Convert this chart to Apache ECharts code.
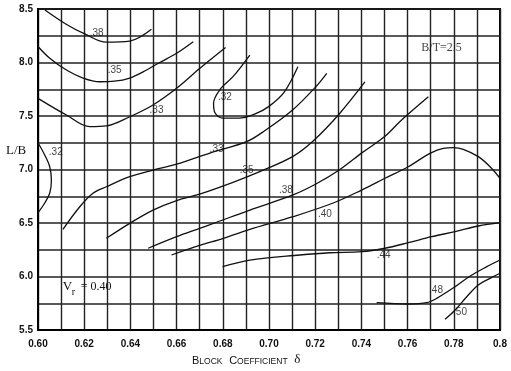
<!DOCTYPE html>
<html>
<head>
<meta charset="utf-8">
<script src="https://cdn.jsdelivr.net/npm/echarts@6/dist/echarts.min.js"></script>
<style>html,body{margin:0;padding:0;background:#fff}#c{width:511px;height:371px}</style>
</head>
<body>
<div id="c"></div>
<script>
// contour curves: [block coefficient, L/B]
const c38top = [[0.603,8.49],[0.612,8.36],[0.620,8.27],[0.6296,8.19],[0.6397,8.20],[0.6491,8.31]];
const c35top = [[0.600,8.15],[0.6051,8.04],[0.6123,7.93],[0.6195,7.855],[0.6267,7.82],[0.633,7.825],[0.6397,7.855],[0.647,7.93],[0.6527,8.0],[0.660,8.086],[0.6672,8.194]];
const c33top = [[0.600,7.665],[0.6123,7.509],[0.6224,7.40],[0.6296,7.407],[0.6397,7.493],[0.6498,7.603],[0.660,7.759],[0.6701,7.946],[0.6812,8.14]];
const c32mid = [[0.6917,8.07],[0.6845,7.87],[0.6787,7.745],[0.676,7.62],[0.6766,7.53],[0.680,7.48],[0.687,7.48],[0.694,7.52],[0.700,7.59],[0.7065,7.72],[0.7125,7.96]];
const c32left = [[0.600,7.25],[0.6029,7.136],[0.6051,7.023],[0.6058,6.902],[0.6051,6.78],[0.6029,6.687],[0.600,6.595]];
const c33low = [[0.6108,6.441],[0.6181,6.652],[0.6238,6.778],[0.6296,6.839],[0.6397,6.933],[0.6498,6.995],[0.660,7.05],[0.6744,7.154],[0.6903,7.26],[0.698,7.36],[0.7102,7.556],[0.7203,7.774],[0.725,7.899]];
const c35low = [[0.6296,6.357],[0.6397,6.497],[0.6498,6.621],[0.660,6.71],[0.670,6.77],[0.6844,6.88],[0.696,6.98],[0.7102,7.12],[0.7191,7.266],[0.7304,7.519],[0.7415,7.818]];
const c38low = [[0.6477,6.264],[0.660,6.372],[0.670,6.45],[0.6773,6.507],[0.6917,6.621],[0.7104,6.762],[0.7203,6.864],[0.7304,6.995],[0.7405,7.16],[0.7502,7.31],[0.7574,7.463],[0.769,7.68]];
const c40 = [[0.6578,6.201],[0.670,6.29],[0.6799,6.355],[0.6917,6.44],[0.7104,6.559],[0.7278,6.687],[0.7401,6.808],[0.7502,6.918],[0.7603,7.026],[0.7697,7.151],[0.7755,7.198],[0.7798,7.204],[0.7841,7.189],[0.7906,7.12],[0.7957,7.026],[0.800,6.918]];
const c44 = [[0.6799,6.092],[0.6917,6.154],[0.7133,6.201],[0.7263,6.222],[0.7401,6.232],[0.7502,6.264],[0.7603,6.316],[0.7704,6.372],[0.7805,6.419],[0.7906,6.472],[0.800,6.503]];
const c48 = [[0.7466,5.755],[0.7603,5.743],[0.7683,5.755],[0.7726,5.796],[0.7806,5.905],[0.7871,6.005],[0.7943,6.092],[0.800,6.154]];
const c50 = [[0.7762,5.60],[0.7806,5.687],[0.7856,5.811],[0.7906,5.921],[0.7957,5.983],[0.800,6.03]];

// curve value labels: [block coefficient, L/B, text]
const curveLabels = [
  [0.6254,8.273,'.38'],[0.6332,7.93,'.35'],[0.6513,7.556,'.33'],[0.6809,7.675,'.32'],
  [0.6077,7.157,'.32'],[0.6773,7.192,'.33'],[0.6903,6.989,'.35'],[0.7073,6.808,'.38'],
  [0.7242,6.584,'.40'],[0.7496,6.201,'.44'],[0.7723,5.874,'.48'],[0.7827,5.662,'.50']
];
// annotation anchors in data coordinates
const noteBT = [0.7747, 8.133, 'B/T=2.5'];
const noteVr = [0.6202, 5.893];

const curves = [c38top,c35top,c33top,c32mid,c32left,c33low,c35low,c38low,c40,c44,c48,c50];

const chart = echarts.init(document.getElementById('c'), null, {renderer:'canvas'});
const series = curves.map(d => ({
  type:'line', data:d, smooth:0.35, showSymbol:false, symbol:'none',
  lineStyle:{color:'#111', width:1.3}, silent:true, z:3
}));
series.push({
  type:'scatter', data: curveLabels.map(l => [l[0], l[1], l[2]]),
  symbolSize:1, itemStyle:{color:'rgba(0,0,0,0)'}, z:4,
  label:{show:true, position:'inside', formatter:p=>p.data[2], color:'#111',
    fontFamily:'Liberation Sans', fontSize:10}
});
series.push({
  type:'scatter', data:[[noteBT[0], noteBT[1], noteBT[2]]],
  symbolSize:1, itemStyle:{color:'rgba(0,0,0,0)'}, z:4,
  label:{show:true, position:'inside', formatter:p=>p.data[2], color:'#111',
    fontFamily:'Liberation Serif', fontSize:12}
});

chart.setOption({
  backgroundColor:'#fff',
  animation:false,
  grid:{left:38, right:11, top:9, bottom:41, show:true, borderColor:'#000', borderWidth:2},
  xAxis:{
    type:'value', min:0.6, max:0.8, interval:0.01,
    axisLine:{show:true, lineStyle:{color:'#000', width:2}},
    axisTick:{show:false},
    splitLine:{show:true, lineStyle:{color:'#222', width:1.4}},
    axisLabel:{margin:9, color:'#111', fontFamily:'Liberation Sans', fontSize:10, fontWeight:'bold',
      formatter:v=>{const k=Math.round(v*100); if(k%2) return ''; return k===80?'0.8':(k/100).toFixed(2);}}
  },
  yAxis:{
    type:'value', min:5.5, max:8.5, interval:0.25,
    axisLine:{show:true, lineStyle:{color:'#000', width:2}},
    axisTick:{show:false},
    splitLine:{show:true, lineStyle:{color:'#222', width:1.6}},
    axisLabel:{margin:5, color:'#111', fontFamily:'Liberation Sans', fontSize:10, fontWeight:'bold',
      formatter:v=>{const k=Math.round(v*4); if(k%2) return ''; return (k/4).toFixed(1);}}
  },
  series:series
});

const vp = chart.convertToPixel({gridIndex:0}, noteVr);
chart.setOption({
  graphic:[
    {type:'text', left:6, top:144, style:{text:'L/B', font:'13px "Liberation Serif"', fill:'#111'}},
    {type:'text', left:192, top:353, style:{
      text:'{b|B}{s|LOCK}  {b|C}{s|OEFFICIENT}  {d|δ}',
      rich:{
        b:{fontFamily:'Liberation Sans', fontSize:11, fill:'#111', verticalAlign:'bottom', lineHeight:14},
        s:{fontFamily:'Liberation Sans', fontSize:8.5, fill:'#111', verticalAlign:'bottom', lineHeight:14},
        d:{fontFamily:'Liberation Serif', fontSize:13, fill:'#111', verticalAlign:'bottom', lineHeight:14}
      }}},
    {type:'text', x:vp[0]-22, y:vp[1]-8, style:{text:'V', font:'13px "Liberation Serif"', fill:'#111'}},
    {type:'text', x:vp[0]-13, y:vp[1]-1, style:{text:'r', font:'10px "Liberation Serif"', fill:'#111'}},
    {type:'text', x:vp[0]-4, y:vp[1]-7, style:{text:'= 0.40', font:'12px "Liberation Serif"', fill:'#111'}}
  ]
});
</script>
</body>
</html>
